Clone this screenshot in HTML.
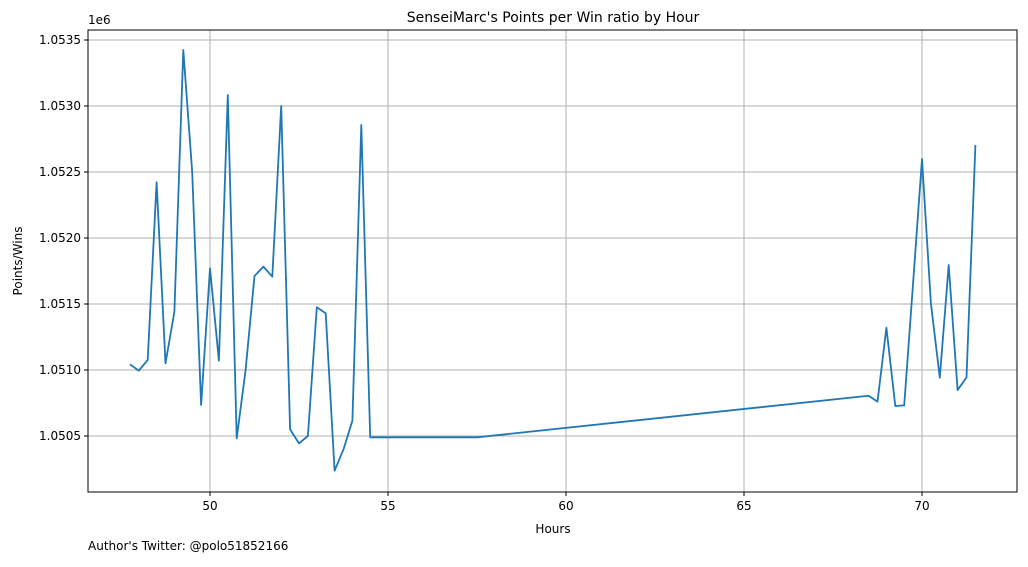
<!DOCTYPE html>
<html><head><meta charset="utf-8"><style>
body{margin:0;background:#fff;font-family:"Liberation Sans","DejaVu Sans",sans-serif;}
svg text{font-family:"DejaVu Sans","Liberation Sans",sans-serif;fill:#000;}
</style></head><body>
<svg id="chart" width="1028" height="562" xmlns="http://www.w3.org/2000/svg">
<rect width="1028" height="562" fill="#fff"/>
<g id="grid"></g>
<polyline id="line" fill="none" stroke="#1f77b4" stroke-width="1.8" stroke-linejoin="round"/>
<rect x="88" y="30" width="929" height="462" fill="none" stroke="#000" stroke-width="1"/>
<g id="ticks"></g>
<text x="553" y="22" font-size="14" text-anchor="middle">SenseiMarc's Points per Win ratio by Hour</text>
<text x="553" y="533" font-size="12" text-anchor="middle">Hours</text>
<text transform="translate(22,261) rotate(-90)" font-size="12" text-anchor="middle">Points/Wins</text>
<text x="88" y="24" font-size="12">1e6</text>
<text x="88" y="550" font-size="12">Author's Twitter: @polo51852166</text>
</svg>
<script>
const hours=[47.75,48,48.25,48.5,48.75,49,49.25,49.5,49.75,50,50.25,50.5,50.75,51,51.25,51.5,51.75,52,52.25,52.5,52.75,53,53.25,53.5,53.75,54,54.25,54.5,57.5,68.5,68.75,69,69.25,69.5,69.75,70,70.25,70.5,70.75,71,71.25,71.5];
const ratios=[1051043,1050995,1051076,1052422,1051050,1051442,1053424,1052500,1050735,1051770,1051070,1053083,1050482,1051000,1051712,1051783,1051707,1053000,1050550,1050444,1050500,1051475,1051430,1050237,1050399,1050616,1052856,1050490,1050490,1050805,1050760,1051320,1050727,1050732,1051660,1052598,1051505,1050942,1051795,1050848,1050944,1052705];
const xTicks=[50,55,60,65,70];
const yTicks=[1050500,1051000,1051500,1052000,1052500,1053000,1053500];
const yTickLabels=["1.0505","1.0510","1.0515","1.0520","1.0525","1.0530","1.0535"];
const L=88,R=1017,T=30,B=492;
const xs=v=>210+(v-50)*35.6;
const ys=v=>436-(v-1050500)*66/500;
const NS="http://www.w3.org/2000/svg";
const grid=document.getElementById('grid'),ticks=document.getElementById('ticks');
function mk(tag,attrs,parent){const e=document.createElementNS(NS,tag);for(const k in attrs)e.setAttribute(k,attrs[k]);parent.appendChild(e);return e;}
xTicks.forEach(t=>{const x=xs(t);
 const g=mk('line',{x1:x,x2:x,y1:T,y2:B,stroke:'#b0b0b0','stroke-width':1},grid);
 
 
 mk('line',{x1:x,x2:x,y1:B,y2:B+4,stroke:'#000'},ticks);
 const tx=mk('text',{x:x,y:B+18,'font-size':12,'text-anchor':'middle'},ticks);tx.textContent=t;
 
 
});
yTicks.forEach((t,i)=>{const y=ys(t);
 const g=mk('line',{x1:L,x2:R,y1:y,y2:y,stroke:'#b0b0b0','stroke-width':1},grid);
 
 
 mk('line',{x1:L-4,x2:L,y1:y,y2:y,stroke:'#000'},ticks);
 const tx=mk('text',{x:L-7,y:y+4,'font-size':12,'text-anchor':'end'},ticks);tx.textContent=yTickLabels[i];
 
 
});
document.getElementById('line').setAttribute('points',hours.map((h,i)=>xs(h)+','+ys(ratios[i])).join(' '));
</script>
</body></html>
